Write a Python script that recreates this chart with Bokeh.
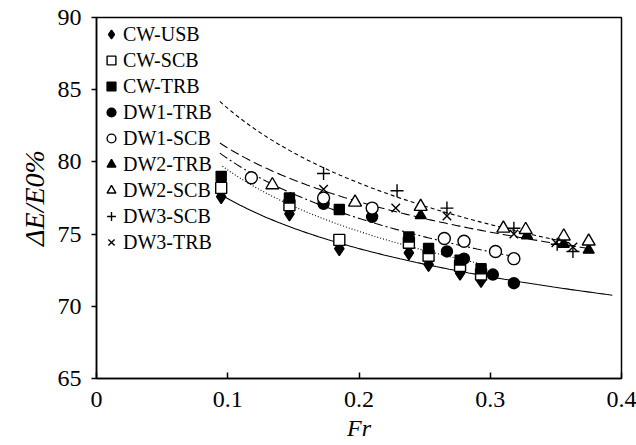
import numpy as np
from bokeh.plotting import figure
from bokeh.models import Legend, LegendItem, FixedTicker, Range1d
from bokeh.embed import file_html
from bokeh.resources import INLINE

# ---- data ----
cw_fr = [0.095, 0.147, 0.185, 0.238, 0.253, 0.277, 0.293]
cw_usb = [77.6, 76.4, 74.0, 73.7, 72.9, 72.3, 71.8]
cw_scb = [78.2, 77.0, 74.6, 74.4, 73.5, 72.8, 72.2]
cw_trb = [79.0, 77.5, 76.7, 74.8, 74.0, 73.2, 72.6]

dw1_trb_fr = [0.173, 0.210, 0.267, 0.280, 0.302, 0.318]
dw1_trb = [77.1, 76.2, 73.8, 73.3, 72.2, 71.6]
dw1_scb_fr = [0.118, 0.173, 0.210, 0.265, 0.280, 0.304, 0.318]
dw1_scb = [78.9, 77.5, 76.8, 74.7, 74.5, 73.8, 73.3]

dw2_trb_fr = [0.247, 0.328, 0.356, 0.375]
dw2_trb = [76.3, 74.9, 74.3, 73.9]
dw2_scb_fr = [0.134, 0.197, 0.247, 0.310, 0.327, 0.356, 0.375]
dw2_scb = [78.4, 77.2, 76.9, 75.4, 75.3, 74.85, 74.5]

dw3_scb_fr = [0.173, 0.229, 0.267, 0.318, 0.351, 0.363]
dw3_scb = [79.2, 78.0, 76.8, 75.4, 74.3, 73.8]
dw3_trb_fr = [0.173, 0.228, 0.267, 0.318, 0.350, 0.363]
dw3_trb = [78.1, 76.8, 76.25, 75.0, 74.4, 74.1]

# power-law trend lines y = a * Fr^b
trend_a = [66.54, 66.17, 67.30, 69.23, 67.73]
trend_b = [-0.066, -0.0794, -0.0763, -0.068, -0.092]
trend_x0 = [0.097, 0.096, 0.094, 0.094, 0.094]
trend_x1 = [0.393, 0.290, 0.316, 0.376, 0.360]
trend_dash = ["solid", "1 2", "9 3 2 3", "9 4", "4 3"]

x_ticks = [0, 0.1, 0.2, 0.3, 0.4]
x_tick_labels = ["0", "0.1", "0.2", "0.3", "0.4"]
y_ticks = [65, 70, 75, 80, 85, 90]

FONT = "Liberation Serif"

p = figure(width=636, height=445, output_backend="svg", toolbar_location=None,
           x_range=Range1d(0, 0.4), y_range=Range1d(65, 90),
           min_border_left=96, min_border_right=15, min_border_top=17,
           min_border_bottom=67)
p.grid.visible = False
p.outline_line_color = "black"
p.outline_line_width = 1.5
p.background_fill_color = "white"
p.border_fill_color = "white"

for ax in (p.xaxis[0], p.yaxis[0]):
    ax.axis_line_color = "black"
    ax.axis_line_width = 1.5
    ax.major_tick_line_width = 1.5
    ax.minor_tick_line_color = None
    ax.major_label_text_font = FONT
    ax.major_label_text_font_size = "24px"
    ax.major_label_text_color = "black"
    ax.axis_label_text_font = FONT
    ax.axis_label_text_font_style = "italic"
    ax.axis_label_text_color = "black"

p.xaxis.ticker = FixedTicker(ticks=x_ticks)
p.xaxis.major_label_overrides = {t: l for t, l in zip(x_ticks, x_tick_labels)}
p.xaxis.major_tick_in = 6
p.xaxis.major_tick_out = 0
p.xaxis.major_label_standoff = 13
p.xaxis.axis_label = "Fr"
p.xaxis.axis_label_text_font_size = "24px"
p.xaxis.axis_label_standoff = 5

p.yaxis.ticker = FixedTicker(ticks=y_ticks)
p.yaxis.major_tick_in = 0
p.yaxis.major_tick_out = 5
p.yaxis.major_label_standoff = 10
p.yaxis.axis_label = "ΔE/E0%"
p.yaxis.axis_label_text_font_size = "28px"
p.yaxis.axis_label_standoff = 5

for a, b, x0, x1, d in zip(trend_a, trend_b, trend_x0, trend_x1, trend_dash):
    xs = np.linspace(x0, x1, 120)
    p.line(xs, a * xs ** b, line_color="black", line_width=1.1, line_dash=d)

series = [
    ("CW-USB", cw_fr, cw_usb, "diamond", True, 14),
    ("CW-SCB", cw_fr, cw_scb, "square", False, 11),
    ("CW-TRB", cw_fr, cw_trb, "square", True, 10),
    ("DW1-TRB", dw1_trb_fr, dw1_trb, "circle", True, 11),
    ("DW1-SCB", dw1_scb_fr, dw1_scb, "circle", False, 12),
    ("DW2-TRB", dw2_trb_fr, dw2_trb, "triangle", True, 11),
    ("DW2-SCB", dw2_scb_fr, dw2_scb, "triangle", False, 13),
    ("DW3-SCB", dw3_scb_fr, dw3_scb, "cross", False, 13),
    ("DW3-TRB", dw3_trb_fr, dw3_trb, "x", False, 12),
]

items = []
for name, xs, ys, marker, filled, size in series:
    r = p.scatter(xs, ys, marker=marker, size=size, line_color="black",
                  line_width=1.4, fill_color="black" if filled else "white")
    items.append(LegendItem(label=name, renderers=[r]))

legend = Legend(items=items, location="top_left", border_line_color=None,
                background_fill_alpha=0, label_text_font=FONT,
                label_text_font_size="20px", label_text_color="black",
                glyph_width=22, glyph_height=26, label_height=26,
                label_standoff=1, spacing=0, padding=0, margin=4)
p.add_layout(legend, "center")

open("out.html", "w").write(file_html(p, INLINE))
